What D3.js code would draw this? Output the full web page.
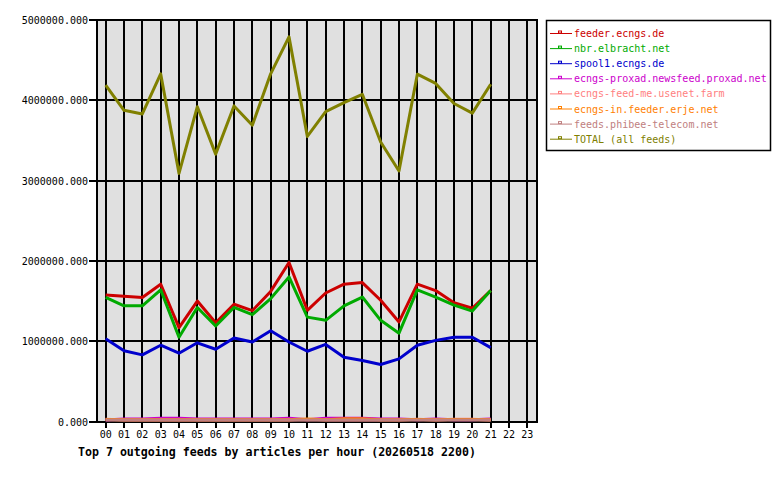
<!DOCTYPE html>
<html>
<head>
<meta charset="utf-8">
<script src="https://cdn.jsdelivr.net/npm/d3@7"></script>
<style>
html,body{margin:0;padding:0;background:#fff;}
svg{display:block;}
text{font-family:"DejaVu Sans Mono","Liberation Mono",monospace;}
</style>
</head>
<body>
<svg id="chart" width="780" height="480"></svg>
<script>
const hours = ["00","01","02","03","04","05","06","07","08","09","10","11","12","13","14","15","16","17","18","19","20","21","22","23"];
const yTicks = [0, 1000000, 2000000, 3000000, 4000000, 5000000];
const title = "Top 7 outgoing feeds by articles per hour (20260518 2200)";

const feederNames = ["feeder.ecngs.de","nbr.elbracht.net","spool1.ecngs.de","ecngs-proxad.newsfeed.proxad.net","ecngs-feed-me.usenet.farm","ecngs-in.feeder.erje.net","feeds.phibee-telecom.net","TOTAL (all feeds)"];
const feederColors = ["#cc0000","#00aa00","#0000cc","#cc00cc","#ff8080","#ff8000","#c08080","#808000"];

const feederEcngs = [1575000,1560000,1545000,1710000,1170000,1500000,1230000,1460000,1380000,1620000,1980000,1385000,1600000,1710000,1730000,1510000,1240000,1710000,1630000,1480000,1410000,1630000];
const nbrElbracht = [1545000,1440000,1440000,1640000,1050000,1420000,1190000,1420000,1330000,1530000,1800000,1300000,1260000,1440000,1550000,1260000,1100000,1640000,1550000,1450000,1375000,1630000];
const spool1 = [1030000,880000,830000,950000,850000,980000,900000,1040000,990000,1130000,990000,875000,960000,800000,760000,710000,780000,950000,1010000,1050000,1050000,920000];
const proxad = [20000,30000,30000,42000,42000,30000,30000,30000,30000,30000,42000,22000,40000,40000,40000,30000,30000,22000,30000,22000,22000,30000];
const feedMe = [28000,20000,20000,20000,20000,20000,20000,20000,20000,20000,20000,24000,20000,20000,20000,20000,20000,28000,20000,28000,28000,20000];
const erje = [24000,22000,22000,22000,22000,22000,22000,22000,22000,22000,22000,30000,22000,34000,34000,22000,22000,24000,22000,24000,24000,22000];
const phibee = [18000,18000,18000,18000,18000,18000,18000,18000,18000,18000,18000,18000,18000,18000,18000,18000,18000,18000,18000,18000,18000,18000];
const total = [4190000,3875000,3830000,4330000,3090000,3920000,3330000,3930000,3690000,4330000,4790000,3550000,3860000,3970000,4075000,3480000,3120000,4325000,4210000,3960000,3840000,4200000];

const seriesValues = [feederEcngs,nbrElbracht,spool1,proxad,feedMe,erje,phibee,total];

const svg = d3.select("#chart");
const L = 96.5, R = 536.5, T = 20, B = 421.5;

const x = d3.scalePoint().domain(hours).range([L, R]).padding(0.5);
const y = d3.scaleLinear().domain([0, 5000000]).range([B, T]);

// plot background
svg.append("rect").attr("x", L).attr("y", T).attr("width", R - L).attr("height", B - T)
  .attr("fill", "#e0e0e0");

// vertical grid lines + ticks
const gx = svg.append("g");
hours.forEach(h => {
  gx.append("line").attr("x1", x(h)).attr("x2", x(h)).attr("y1", T).attr("y2", B + 6)
    .attr("stroke", "#000").attr("stroke-width", 2).attr("shape-rendering", "crispEdges");
  gx.append("text").attr("x", x(h)).attr("y", 438).attr("text-anchor", "middle")
    .attr("font-size", "10px").attr("fill", "#000").text(h);
});

// horizontal grid + y labels
yTicks.forEach(v => {
  svg.append("line").attr("x1", L - 8).attr("x2", R).attr("y1", y(v)).attr("y2", y(v))
    .attr("stroke", "#000").attr("stroke-width", 2).attr("shape-rendering", "crispEdges");
  svg.append("text").attr("x", 88).attr("y", y(v) + 4).attr("text-anchor", "end")
    .attr("font-size", "10px").attr("fill", "#000").text(d3.format(".3f")(v));
});

// border
svg.append("rect").attr("x", L).attr("y", T).attr("width", R - L).attr("height", B - T)
  .attr("fill", "none").attr("stroke", "#000").attr("stroke-width", 2).attr("shape-rendering", "crispEdges");

// lines
const line = d3.line().x((d, i) => x(hours[i])).y(d => y(d));
seriesValues.forEach((vals, k) => {
  svg.append("path").datum(vals).attr("d", line)
    .attr("fill", "none").attr("stroke", feederColors[k]).attr("stroke-width", 3)
    .attr("stroke-linejoin", "round");
});

// legend
const lg = svg.append("g");
lg.append("rect").attr("x", 546.5).attr("y", 20.5).attr("width", 224).attr("height", 130)
  .attr("fill", "#fff").attr("stroke", "#000").attr("stroke-width", 1.5);
feederNames.forEach((n, k) => {
  const yy = 33.5 + k * 15.1;
  lg.append("line").attr("x1", 550).attr("x2", 572).attr("y1", yy).attr("y2", yy)
    .attr("stroke", feederColors[k]).attr("stroke-width", 1);
  lg.append("rect").attr("x", 558.5).attr("y", yy - 2.5).attr("width", 3).attr("height", 2)
    .attr("fill", "none").attr("stroke", feederColors[k]).attr("stroke-width", 1);
  lg.append("text").attr("x", 574).attr("y", yy + 3.5).attr("font-size", "10px")
    .attr("fill", feederColors[k]).text(n);
});

// title
svg.append("text").attr("x", 78).attr("y", 456).attr("font-size", "11.6px")
  .attr("font-weight", "bold").attr("fill", "#000").text(title);
</script>
</body>
</html>
